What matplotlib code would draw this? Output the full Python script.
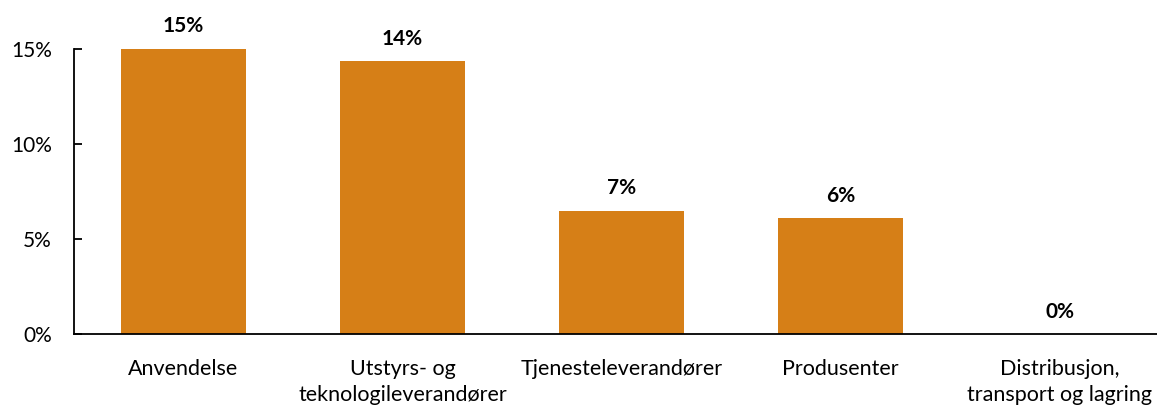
import matplotlib
matplotlib.use("Agg")
import matplotlib.pyplot as plt

categories = ["Anvendelse", "Utstyrs- og\nteknologileverandører", "Tjenesteleverandører",
              "Produsenter", "Distribusjon,\ntransport og lagring"]
values = [15.0, 14.35, 6.5, 6.1, 0.0]
labels = ["15%", "14%", "7%", "6%", "0%"]
yticks = [0, 5, 10, 15]
ytick_labels = ["0%", "5%", "10%", "15%"]

plt.rcParams['font.family'] = ['Lato', 'DejaVu Sans']

W, H = 1157, 407
fig = plt.figure(figsize=(W/100, H/100), dpi=100)
ax = fig.add_axes([74/W, 73/H, 1095/W, 285/H])
x = list(range(len(categories)))
ax.bar(x, values, width=0.57, color="#D67F17")
ax.set_xlim(-0.5, 4.5)
ax.set_ylim(0, 15)
ax.set_yticks(yticks)
ax.set_yticklabels(ytick_labels, fontsize=15)
ax.set_xticks(x)
ax.set_xticklabels(categories, fontsize=15.5, linespacing=1.4)
ax.tick_params(axis='x', length=0, pad=18)
ax.tick_params(axis='y', direction='in', length=6, width=1.3, pad=16)
for s in ["top", "right"]:
    ax.spines[s].set_visible(False)
for s in ["left", "bottom"]:
    ax.spines[s].set_linewidth(1.3)
for xi, v, lab in zip(x, values, labels):
    ax.annotate(lab, (xi, v), xytext=(0, 9), textcoords="offset points",
                ha="center", va="bottom", fontsize=15, fontweight="bold")
fig.savefig("out.png", dpi=100)
